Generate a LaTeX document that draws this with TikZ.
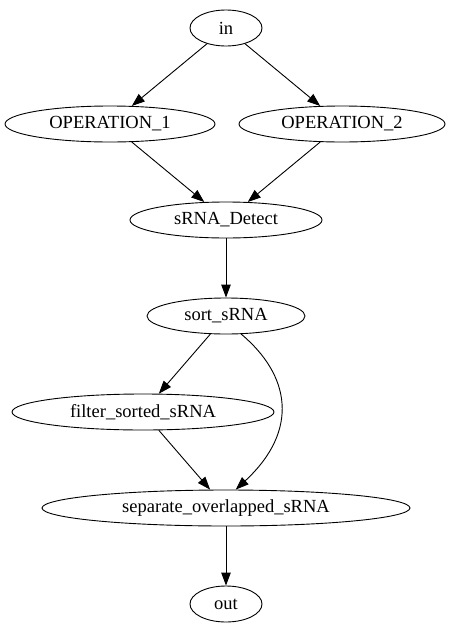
\documentclass[tikz,border=0pt]{standalone}
\usepackage{fontspec}
\setmainfont{Liberation Serif}
\usetikzlibrary{shapes.geometric,arrows.meta}
\begin{document}
\begin{tikzpicture}[x=1pt,y=-1pt,line width=0.9pt,
  nd/.style={draw,ellipse,inner sep=0pt,font=\fontsize{18.5}{20}\selectfont},
  edge/.style={draw,-{Triangle[length=13pt,width=9.5pt]}}]
\useasboundingbox (0,0) rectangle (454,635);
\node[nd,minimum width=72,minimum height=36] (in) at (226,28) {in};
\node[nd,minimum width=210,minimum height=36] (op1) at (110,124) {OPERATION\_1};
\node[nd,minimum width=206,minimum height=36] (op2) at (342,124) {OPERATION\_2};
\node[nd,minimum width=192,minimum height=36] (det) at (226,220) {sRNA\_Detect};
\node[nd,minimum width=158,minimum height=36] (sort) at (226,316) {sort\_sRNA};
\node[nd,minimum width=262,minimum height=36] (filt) at (143,412) {filter\_sorted\_sRNA};
\node[nd,minimum width=368,minimum height=36] (sep) at (226,508) {separate\_overlapped\_sRNA};
\node[nd,minimum width=72,minimum height=36] (out) at (226,604) {out};
\path[edge] (in) -- (op1);
\path[edge] (in) -- (op2);
\path[edge] (op1) -- (det);
\path[edge] (op2) -- (det);
\path[edge] (det) -- (sort);
\path[edge] (sort) -- (filt);
\path[edge] (sort.-50) .. controls (290,375) and (300,430) .. (sep.62);
\path[edge] (filt) -- (sep);
\path[edge] (sep) -- (out);
\end{tikzpicture}
\end{document}
